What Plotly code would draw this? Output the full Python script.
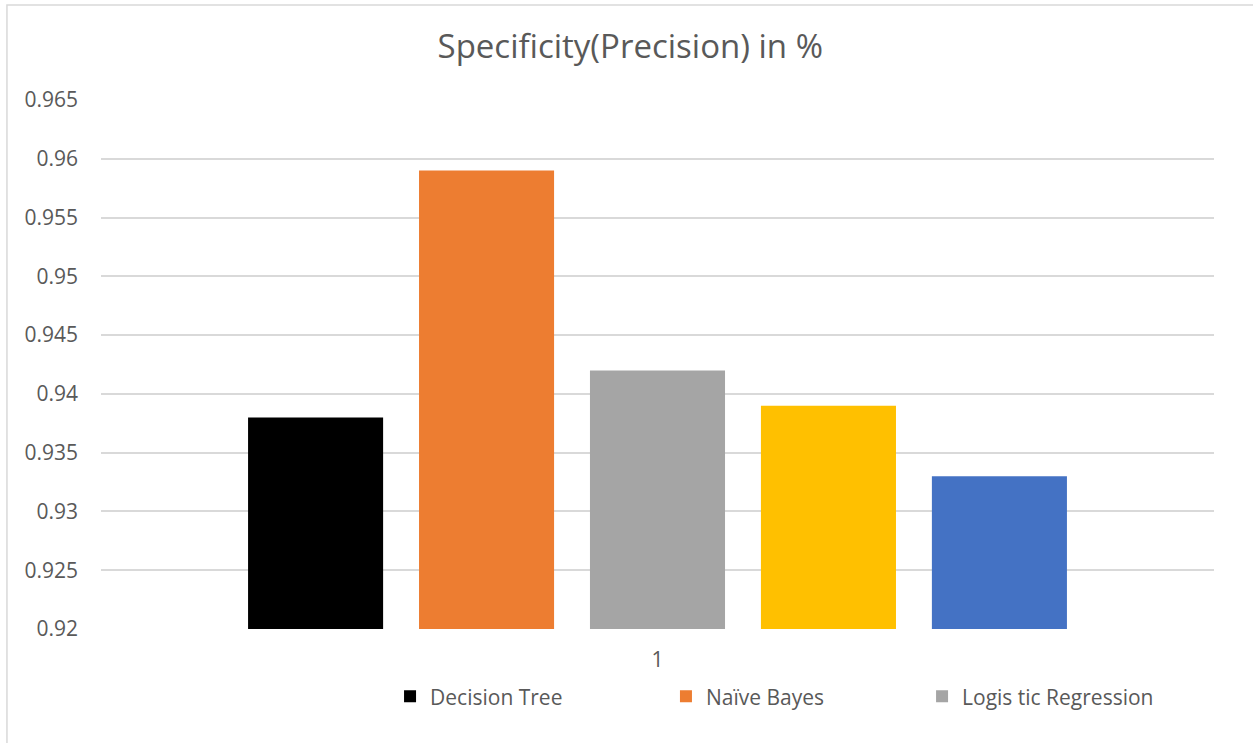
import plotly.graph_objects as go

# Precision scores per classifier
category = ["1"]
models = ["Decision Tree", "Naïve Bayes", "Logis tic Regression", "Series 4", "Series 5"]
scores = [0.938, 0.959, 0.942, 0.939, 0.933]
colors = ["#000000", "#ED7D31", "#A5A5A5", "#FFC000", "#4472C4"]
legend_ids = ["legend", "legend2", "legend3", None, None]

y_ticks = [0.92, 0.925, 0.93, 0.935, 0.94, 0.945, 0.95, 0.955, 0.96, 0.965]

FONT = "Open Sans"
TEXT = "#595959"
GRID = "#D9D9D9"

fig = go.Figure()
for name, val, col, lg in zip(models, scores, colors, legend_ids):
    fig.add_trace(go.Bar(
        x=category, y=[val], name=name,
        marker=dict(color=col, line=dict(width=0)),
        showlegend=lg is not None,
        legend=lg if lg else "legend",
    ))

# one legend per visible entry so each can sit at its own spot
legend_style = dict(orientation="h", yanchor="middle", xanchor="left",
                    font=dict(family=FONT, size=21, color=TEXT),
                    bgcolor="rgba(0,0,0,0)", itemwidth=30, tracegroupgap=0)

fig.update_layout(
    width=1253, height=743,
    margin=dict(l=101, r=39, t=100, b=114),
    paper_bgcolor="white", plot_bgcolor="white",
    title=dict(text="Specificity(Precision) in %", x=0.503, xanchor="center",
               y=0.937, yanchor="middle",
               font=dict(family=FONT, size=33, color=TEXT)),
    barmode="group", bargap=0.232, bargroupgap=0.21,
    legend=dict(x=0.2597, y=-0.128, **legend_style),
    legend2=dict(x=0.5076, y=-0.128, **legend_style),
    legend3=dict(x=0.7377, y=-0.128, **legend_style),
    xaxis=dict(showgrid=False, showline=False, ticks="",
               tickfont=dict(family=FONT, size=21, color=TEXT),
               ticklabelstandoff=16),
    yaxis=dict(range=[0.92, 0.965], tickvals=y_ticks,
               ticktext=[f"{v:g}" for v in y_ticks],
               showgrid=True, gridcolor=GRID, gridwidth=1.5,
               zeroline=False, showline=False, ticks="",
               tickfont=dict(family=FONT, size=21, color=TEXT),
               ticklabelstandoff=22),
    showlegend=True,
)

# chart frame
fig.add_shape(type="rect", xref="paper", yref="paper",
              x0=-0.0845, x1=1.05, y0=-0.25, y1=1.1796,
              line=dict(color=GRID, width=1.5), fillcolor="rgba(0,0,0,0)",
              layer="below")

fig.write_html("out.html")
